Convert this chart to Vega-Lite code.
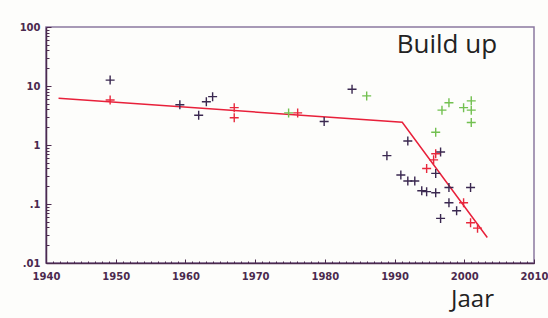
{
  "$schema": "https://vega.github.io/schema/vega-lite/v6.json",
  "width": 488,
  "height": 236,
  "autosize": {"type": "none"},
  "padding": {"left": 46, "top": 27, "right": 14, "bottom": 55},
  "background": "#fdfdfb",
  "config": {
    "view": {"stroke": "#8a78a0", "strokeWidth": 1.5},
    "axis": {
      "labelFont": "DejaVu Sans",
      "labelFontWeight": "bold",
      "labelFontSize": 10,
      "labelColor": "#4b2a4e",
      "domainColor": "#4b2a4e",
      "domainWidth": 1.5,
      "tickColor": "#4b2a4e",
      "tickWidth": 1,
      "grid": false,
      "labelOverlap": false
    }
  },
  "resolve": {"axis": {"x": "independent", "y": "independent"}},
  "datasets": {
    "points": [
      {"year": 1949.2, "value": 12.6, "series": "A"},
      {"year": 1959.2, "value": 4.8, "series": "A"},
      {"year": 1961.9, "value": 3.2, "series": "A"},
      {"year": 1963.0, "value": 5.4, "series": "A"},
      {"year": 1963.9, "value": 6.6, "series": "A"},
      {"year": 1979.9, "value": 2.5, "series": "A"},
      {"year": 1983.9, "value": 8.8, "series": "A"},
      {"year": 1988.9, "value": 0.66, "series": "A"},
      {"year": 1991.9, "value": 1.17, "series": "A"},
      {"year": 1996.6, "value": 0.76, "series": "A"},
      {"year": 1995.9, "value": 0.33, "series": "A"},
      {"year": 1990.9, "value": 0.31, "series": "A"},
      {"year": 1991.9, "value": 0.245, "series": "A"},
      {"year": 1992.9, "value": 0.245, "series": "A"},
      {"year": 1993.9, "value": 0.168, "series": "A"},
      {"year": 1994.6, "value": 0.162, "series": "A"},
      {"year": 1995.9, "value": 0.155, "series": "A"},
      {"year": 1997.8, "value": 0.19, "series": "A"},
      {"year": 2000.9, "value": 0.19, "series": "A"},
      {"year": 1997.8, "value": 0.105, "series": "A"},
      {"year": 1998.9, "value": 0.077, "series": "A"},
      {"year": 1996.6, "value": 0.057, "series": "A"},
      {"year": 1949.2, "value": 5.8, "series": "B"},
      {"year": 1967.0, "value": 4.3, "series": "B"},
      {"year": 1967.0, "value": 2.9, "series": "B"},
      {"year": 1976.1, "value": 3.5, "series": "B"},
      {"year": 1995.9, "value": 0.71, "series": "B"},
      {"year": 1995.6, "value": 0.56, "series": "B"},
      {"year": 1994.6, "value": 0.40, "series": "B"},
      {"year": 1999.9, "value": 0.105, "series": "B"},
      {"year": 2000.9, "value": 0.048, "series": "B"},
      {"year": 2001.9, "value": 0.039, "series": "B"},
      {"year": 1974.8, "value": 3.5, "series": "C"},
      {"year": 1986.0, "value": 6.8, "series": "C"},
      {"year": 1995.9, "value": 1.64, "series": "C"},
      {"year": 1996.8, "value": 3.9, "series": "C"},
      {"year": 1997.8, "value": 5.2, "series": "C"},
      {"year": 1999.9, "value": 4.3, "series": "C"},
      {"year": 2001.0, "value": 5.6, "series": "C"},
      {"year": 2001.0, "value": 3.9, "series": "C"},
      {"year": 2001.0, "value": 2.4, "series": "C"}
    ],
    "fit": [
      {"year": 1941.8, "value": 6.2},
      {"year": 1991.1, "value": 2.43},
      {"year": 2003.3, "value": 0.027}
    ],
    "labels": [
      {"year": 1997.5, "value": 50, "text": "Build up"}
    ]
  },
  "layer": [
    {
      "data": {"name": "fit"},
      "mark": {"type": "line", "color": "#e8203a", "strokeWidth": 1.5},
      "encoding": {
        "x": {
          "field": "year", "type": "quantitative",
          "scale": {"domain": [1940, 2010], "nice": false, "zero": false},
          "axis": {
            "orient": "bottom",
            "title": "Jaar",
            "titleFont": "Open Sans",
            "titleFontSize": 24,
            "titleFontWeight": "normal",
            "titleColor": "#222222",
            "titleX": 426,
            "titleY": 36,
            "titleAlign": "center",
            "titleBaseline": "middle",
            "values": [1940, 1950, 1960, 1970, 1980, 1990, 2000, 2010],
            "format": "d",
            "tickSize": -4,
            "labelPadding": 12,
            "labelBound": false,
            "labelFlush": false
          }
        },
        "y": {
          "field": "value", "type": "quantitative",
          "scale": {"type": "log", "domain": [0.01, 100], "nice": false},
          "axis": {
            "orient": "left",
            "title": null,
            "values": [0.01, 0.1, 1, 10, 100],
            "labelExpr": "datum.value == 100 ? '100' : datum.value == 10 ? '10' : datum.value == 1 ? '1' : datum.value == 0.1 ? '.1' : '.01'",
            "tickSize": -5,
            "labelPadding": 11,
            "labelBound": false,
            "labelFlush": false
          }
        }
      }
    },
    {
      "data": {"name": "points"},
      "mark": {"type": "point", "shape": "M-1,0L1,0M0,-1L0,1", "filled": false, "strokeWidth": 1.4, "size": 81, "opacity": 1},
      "encoding": {
        "x": {
          "field": "year", "type": "quantitative",
          "axis": {
            "orient": "bottom",
            "title": null,
            "labels": false,
            "domain": false,
            "tickSize": -2,
            "values": [1940,1941,1942,1943,1944,1945,1946,1947,1948,1949,1950,1951,1952,1953,1954,1955,1956,1957,1958,1959,1960,1961,1962,1963,1964,1965,1966,1967,1968,1969,1970,1971,1972,1973,1974,1975,1976,1977,1978,1979,1980,1981,1982,1983,1984,1985,1986,1987,1988,1989,1990,1991,1992,1993,1994,1995,1996,1997,1998,1999,2000,2001,2002,2003,2004,2005,2006,2007,2008,2009,2010]
          }
        },
        "y": {
          "field": "value", "type": "quantitative",
          "axis": {
            "orient": "left",
            "title": null,
            "labels": false,
            "domain": false,
            "tickSize": -3,
            "values": [0.02,0.03,0.04,0.05,0.06,0.07,0.08,0.09,0.2,0.3,0.4,0.5,0.6,0.7,0.8,0.9,2,3,4,5,6,7,8,9,20,30,40,50,60,70,80,90]
          }
        },
        "color": {
          "field": "series", "type": "nominal",
          "scale": {"domain": ["A", "B", "C"], "range": ["#3a2850", "#e8283c", "#72c050"]},
          "legend": null
        }
      }
    },
    {
      "data": {"name": "labels"},
      "mark": {"type": "text", "font": "Open Sans", "fontSize": 26, "color": "#222222", "align": "center", "baseline": "middle"},
      "encoding": {
        "x": {"field": "year", "type": "quantitative", "axis": null},
        "y": {"field": "value", "type": "quantitative", "axis": null},
        "text": {"field": "text"}
      }
    }
  ]
}
